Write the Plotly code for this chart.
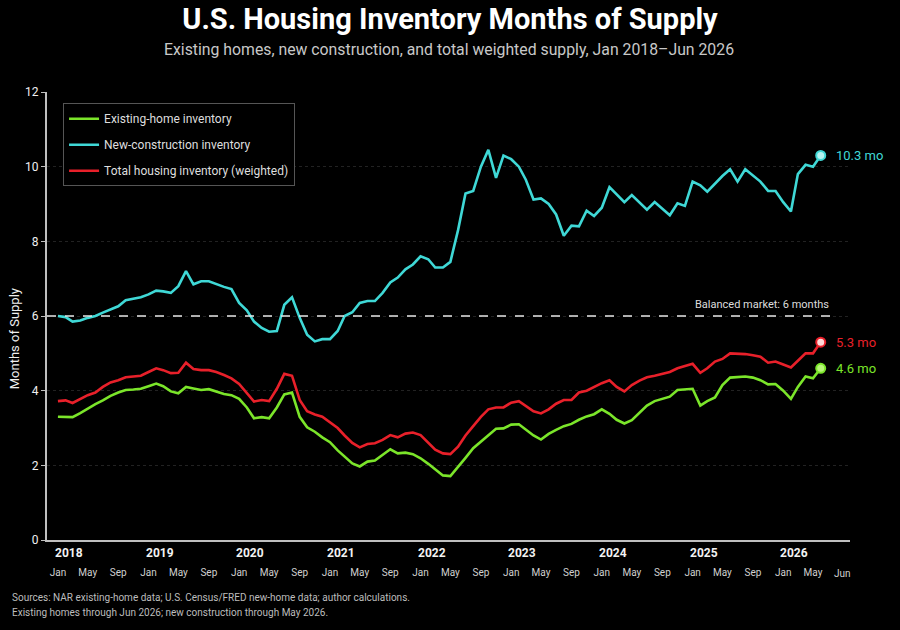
import pandas as pd
import plotly.graph_objects as go

months = pd.date_range("2018-01-01", "2026-06-01", freq="MS")

existing = [3.3, 3.3, 3.29, 3.4, 3.52, 3.64, 3.74, 3.86, 3.95, 4.02,
            4.03, 4.05, 4.12, 4.19, 4.12, 3.98, 3.93, 4.1, 4.06, 4.02,
            4.04, 3.97, 3.91, 3.88, 3.78, 3.55, 3.26, 3.29, 3.26, 3.55,
            3.9, 3.95, 3.3, 3.02, 2.9, 2.75, 2.62, 2.4, 2.23, 2.05,
            1.97, 2.1, 2.13, 2.28, 2.43, 2.32, 2.34, 2.3, 2.19, 2.04,
            1.9, 1.73, 1.71, 1.95, 2.2, 2.46, 2.63, 2.82, 2.98, 2.99,
            3.09, 3.1, 2.96, 2.8, 2.69, 2.84, 2.95, 3.05, 3.11, 3.22,
            3.31, 3.37, 3.5, 3.38, 3.22, 3.12, 3.21, 3.42, 3.6, 3.72,
            3.78, 3.84, 4.02, 4.04, 4.05, 3.6, 3.72, 3.82, 4.15, 4.35,
            4.36, 4.38, 4.35, 4.28, 4.17, 4.18, 4.0, 3.78, 4.1, 4.38,
            4.33, 4.6]

new_construction = [6.0, 5.97, 5.85, 5.88, 5.95, 6.0, 6.09, 6.18, 6.26, 6.42,
                    6.46, 6.5, 6.58, 6.68, 6.66, 6.62, 6.8, 7.2, 6.85, 6.93,
                    6.93, 6.85, 6.78, 6.72, 6.35, 6.15, 5.85, 5.68, 5.58, 5.6,
                    6.3, 6.5, 5.95, 5.5, 5.32, 5.38, 5.38, 5.6, 6.0, 6.1,
                    6.35, 6.4, 6.4, 6.62, 6.9, 7.03, 7.25, 7.38, 7.6, 7.52,
                    7.3, 7.3, 7.45, 8.3, 9.28, 9.35, 10.0, 10.45, 9.7, 10.3,
                    10.2, 10.0, 9.65, 9.12, 9.15, 9.0, 8.72, 8.15, 8.42, 8.4,
                    8.82, 8.68, 8.9, 9.45, 9.25, 9.05, 9.24, 9.05, 8.85, 9.05,
                    8.88, 8.7, 9.02, 8.95, 9.6, 9.5, 9.33, 9.55, 9.75, 9.93,
                    9.6, 9.93, 9.75, 9.6, 9.35, 9.35, 9.05, 8.8, 9.8, 10.05,
                    10.0, 10.3]

total = [3.72, 3.74, 3.67, 3.78, 3.88, 3.95, 4.1, 4.22, 4.28, 4.36,
         4.38, 4.4, 4.5, 4.6, 4.55, 4.47, 4.48, 4.75, 4.58, 4.55,
         4.55, 4.5, 4.42, 4.33, 4.18, 3.95, 3.71, 3.75, 3.72, 4.05,
         4.45, 4.4, 3.75, 3.45, 3.36, 3.3, 3.15, 3.0, 2.8, 2.6,
         2.48, 2.57, 2.59, 2.68, 2.81, 2.75, 2.85, 2.88, 2.81, 2.6,
         2.42, 2.32, 2.3, 2.5, 2.8, 3.05, 3.3, 3.5, 3.55, 3.55,
         3.68, 3.72, 3.6, 3.45, 3.39, 3.5, 3.65, 3.75, 3.75, 3.95,
         4.0, 4.1, 4.2, 4.28, 4.1, 3.98, 4.15, 4.27, 4.36, 4.4,
         4.45, 4.5, 4.6, 4.65, 4.72, 4.48, 4.6, 4.78, 4.85, 5.0,
         5.0, 4.98, 4.95, 4.91, 4.75, 4.78, 4.7, 4.62, 4.8, 5.0,
         5.0, 5.3]

series_names = ["Existing-home inventory", "New-construction inventory",
                "Total housing inventory (weighted)"]
series_values = [existing, new_construction, total]
series_colors = ["#7be52a", "#3fd8d6", "#e8202a"]
marker_fills = ["#b8f57a", "#b5f4f2", "#ffd9d9"]

y_ticks = [0, 2, 4, 6, 8, 10, 12]
balanced_level = 6
years = list(range(2018, 2027))

FONT = "Roboto, Arial, sans-serif"

fig = go.Figure()
for i, (name, vals, col) in enumerate(zip(series_names, series_values, series_colors)):
    fig.add_trace(go.Scatter(x=months, y=vals, name=name, mode="lines",
                             legendgroup=f"g{i}",
                             line=dict(color=col, width=2.6)))
for name, vals, col, fill in zip(series_names, series_values, series_colors, marker_fills):
    fig.add_trace(go.Scatter(x=[months[-1]], y=[vals[-1]], mode="markers",
                             showlegend=False,
                             marker=dict(size=9, color=fill, line=dict(color=col, width=2))))
    fig.add_annotation(x=months[-1], y=vals[-1], text=f"{vals[-1]:.1f} mo",
                       showarrow=False, xanchor="left", xshift=13,
                       font=dict(color=col, size=13, family=FONT))

# balanced market line
fig.add_shape(type="line", xref="paper", yref="y", x0=0, x1=0.984,
              y0=balanced_level, y1=balanced_level,
              line=dict(color="#e6e6e6", width=1.5, dash="dash"))
fig.add_annotation(xref="paper", yref="y", x=0.976, y=balanced_level,
                   text=f"Balanced market: {balanced_level} months", showarrow=False,
                   xanchor="right", yanchor="bottom", yshift=3,
                   font=dict(color="#dddddd", size=11, family=FONT))

# x ticks: Jan / May / Sep
tickvals, ticktext = [], []
for d in months:
    if d.month in (1, 5, 9) and d < pd.Timestamp("2026-02-01"):
        tickvals.append(d)
        ticktext.append(d.strftime("%b"))
tickvals.append(pd.Timestamp("2026-05-01"))
ticktext.append("May")
fig.add_annotation(x=pd.Timestamp("2026-06-01"), xref="x", yref="paper", y=-0.057,
                   text="Jun", showarrow=False, xanchor="center", yanchor="top",
                   xshift=22, font=dict(color="#d0d0d0", size=10, family=FONT))

for yr in years:
    fig.add_annotation(x=pd.Timestamp(f"{yr}-01-01"), xref="x", yref="paper",
                       y=-0.01, text=f"<b>{yr}</b>", showarrow=False,
                       xanchor="left", yanchor="top", xshift=-5,
                       font=dict(color="#f2f2f2", size=12, family=FONT))

# y-axis title (placed slightly below the axis centre, as in the reference)
fig.add_annotation(xref="paper", yref="paper", x=-0.04, y=0.45,
                   text="Months of Supply", textangle=-90, showarrow=False,
                   xanchor="center", yanchor="middle",
                   font=dict(size=13, color="#f0f0f0", family=FONT))

# subtitle / footer
fig.add_annotation(xref="paper", yref="paper", x=0.5, y=1.094,
                   text="Existing homes, new construction, and total weighted supply, Jan 2018\u2013Jun 2026",
                   showarrow=False, xanchor="center", yanchor="middle",
                   font=dict(color="#c8c8c8", size=15.8, family=FONT))
fig.add_annotation(xref="paper", yref="paper", x=-0.046, y=-0.128,
                   text="Sources: NAR existing-home data; U.S. Census/FRED new-home data; author calculations.",
                   showarrow=False, xanchor="left", yanchor="middle",
                   font=dict(color="#bdbdbd", size=10, family=FONT))
fig.add_annotation(xref="paper", yref="paper", x=-0.046, y=-0.162,
                   text="Existing homes through Jun 2026; new construction through May 2026.",
                   showarrow=False, xanchor="left", yanchor="middle",
                   font=dict(color="#bdbdbd", size=10, family=FONT))

fig.update_layout(
    width=900, height=630,
    paper_bgcolor="#000000", plot_bgcolor="#000000",
    margin=dict(l=47, r=50, t=92, b=90, autoexpand=False),
    font=dict(family=FONT, color="#e0e0e0"),
    title=dict(text="<b>U.S. Housing Inventory Months of Supply</b>",
               x=0.5, xref="container", xanchor="center",
               y=1 - 19 / 630, yref="container", yanchor="middle",
               font=dict(size=29, color="#ffffff", family=FONT)),
    legend=dict(x=0.02, y=0.975, xanchor="left", yanchor="top",
                bgcolor="#000000", bordercolor="#555555", borderwidth=1,
                font=dict(size=12, color="#dedede", family=FONT),
                traceorder="grouped", tracegroupgap=7),
    showlegend=True,
)
fig.update_xaxes(type="date",
                 range=[pd.Timestamp("2017-11-18"), pd.Timestamp("2026-09-27")],
                 tickvals=tickvals, ticktext=ticktext,
                 tickfont=dict(size=10, color="#d0d0d0", family=FONT),
                 ticklabelstandoff=22, automargin=False,
                 showgrid=False, zeroline=False,
                 showline=True, linecolor="#bfbfbf", linewidth=2,
                 ticks="", fixedrange=True)
fig.update_yaxes(range=[0, 12], tickvals=y_ticks, automargin=False,
                 tickfont=dict(size=12, color="#f0f0f0", family=FONT),
                 showgrid=True, gridcolor="#222222", gridwidth=1, griddash="dot",
                 zeroline=False, showline=True, linecolor="#bfbfbf", linewidth=2,
                 ticks="outside", ticklen=4, tickcolor="#bfbfbf")

fig.write_html("out.html")
